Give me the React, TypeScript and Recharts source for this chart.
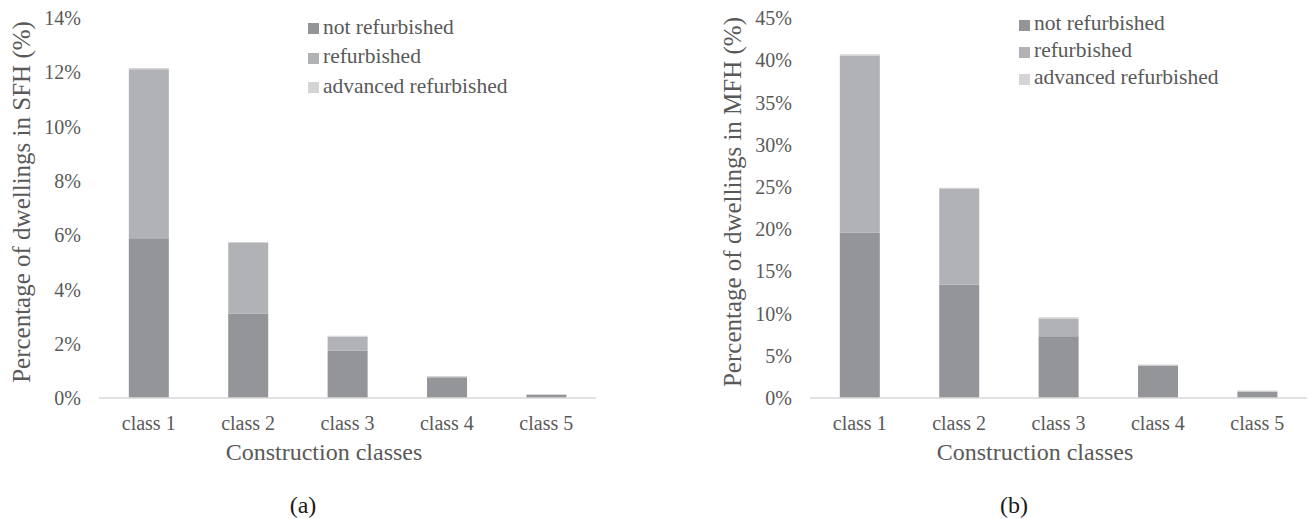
import React from 'react';
import { BarChart, Bar, XAxis, YAxis, Legend, Label } from 'recharts';

const classes = ['class 1', 'class 2', 'class 3', 'class 4', 'class 5'];

// single family houses, % of dwellings
const sfhNotRefurbished = [5.89, 3.11, 1.74, 0.76, 0.12];
const sfhRefurbished = [6.22, 2.6, 0.52, 0.0, 0.0];
const sfhAdvanced = [0.05, 0.04, 0.03, 0.05, 0.03];
const sfhTicks = [0, 2, 4, 6, 8, 10, 12, 14];

// multi family houses, % of dwellings
const mfhNotRefurbished = [19.6, 13.4, 7.32, 3.85, 0.78];
const mfhRefurbished = [20.95, 11.35, 2.1, 0.0, 0.0];
const mfhAdvanced = [0.15, 0.15, 0.14, 0.12, 0.12];
const mfhTicks = [0, 5, 10, 15, 20, 25, 30, 35, 40, 45];

const seriesNames = ['not refurbished', 'refurbished', 'advanced refurbished'];
const seriesColors = ['#949599', '#b1b2b6', '#d4d4d6'];

const FONT = '"Liberation Serif", "Times New Roman", serif';
const TEXT = '#595959';

const PANEL_W = 597;
const PANEL_H = 519;

// note: keys must not be "ref"/"key", bar props get the row spread onto them
const buildRows = (a: number[], b: number[], c: number[]) =>
  classes.map((name, i) => ({ name, notRefurb: a[i], refurb: b[i], advRefurb: c[i] }));

interface PanelProps {
  left: number;
  rows: { name: string; notRefurb: number; refurb: number; advRefurb: number }[];
  ticks: number[];
  yTitle: string;
  caption: string;
  legendTop: number;
  legendRow: number;
}

const Panel = ({ left, rows, ticks, yTitle, caption, legendTop, legendRow }: PanelProps) => (
  <div style={{ position: 'absolute', left, top: 0 }}>
    <BarChart
      width={PANEL_W}
      height={PANEL_H}
      data={rows}
      margin={{ top: 18, right: 1, bottom: 91, left: 0 }}
      barCategoryGap="30%"
    >
      <XAxis
        dataKey="name"
        height={30}
        axisLine={{ stroke: '#d9d9d9', strokeWidth: 1.5 }}
        tickLine={false}
        tickSize={0}
        tickMargin={18}
        tick={{ fill: TEXT, fontFamily: FONT, fontSize: 20 }}
      >
        <Label value="Construction classes" position="bottom" offset={15} dx={-23.5}
          fill={TEXT} fontFamily={FONT} fontSize={24} />
        <Label value={caption} position="bottom" offset={68} dx={-44.5}
          fill="#1a1a1a" fontFamily={FONT} fontSize={24} />
      </XAxis>
      <YAxis
        width={99}
        domain={[ticks[0], ticks[ticks.length - 1]]}
        ticks={ticks}
        interval={0}
        axisLine={false}
        tickLine={false}
        tickSize={0}
        tickMargin={18}
        tickFormatter={(v: number) => `${v}%`}
        tick={{ fill: TEXT, fontFamily: FONT, fontSize: 20 }}
      >
        <Label value={yTitle} position="center" angle={-90} dx={-28} dy={-6}
          fill={TEXT} fontFamily={FONT} fontSize={25} />
      </YAxis>
      <Legend
        layout="vertical"
        align="center"
        verticalAlign="middle"
        iconType="square"
        iconSize={11}
        itemSorter={(item: any) => seriesNames.indexOf(item.value)}
        formatter={(value: string) => <span style={{ color: TEXT }}>{value}</span>}
        wrapperStyle={{
          left: 308,
          top: legendTop,
          width: 240,
          fontFamily: FONT,
          fontSize: 21.5,
          lineHeight: `${legendRow}px`,
          whiteSpace: 'nowrap',
        }}
      />
      <Bar dataKey="notRefurb" name={seriesNames[0]} stackId="s" fill={seriesColors[0]} isAnimationActive={false} />
      <Bar dataKey="refurb" name={seriesNames[1]} stackId="s" fill={seriesColors[1]} isAnimationActive={false} />
      <Bar dataKey="advRefurb" name={seriesNames[2]} stackId="s" fill={seriesColors[2]} isAnimationActive={false} />
    </BarChart>
  </div>
);

export default function App() {
  return (
    <div style={{ position: 'absolute', left: 0, top: 0, width: 1308, height: 519, overflow: 'hidden', background: '#fff' }}>
      <Panel
        left={0}
        rows={buildRows(sfhNotRefurbished, sfhRefurbished, sfhAdvanced)}
        ticks={sfhTicks}
        yTitle="Percentage of dwellings in SFH (%)"
        caption="(a)"
        legendTop={12.5}
        legendRow={29.5}
      />
      <Panel
        left={711}
        rows={buildRows(mfhNotRefurbished, mfhRefurbished, mfhAdvanced)}
        ticks={mfhTicks}
        yTitle="Percentage of dwellings in MFH (%)"
        caption="(b)"
        legendTop={10}
        legendRow={27}
      />
    </div>
  );
}
